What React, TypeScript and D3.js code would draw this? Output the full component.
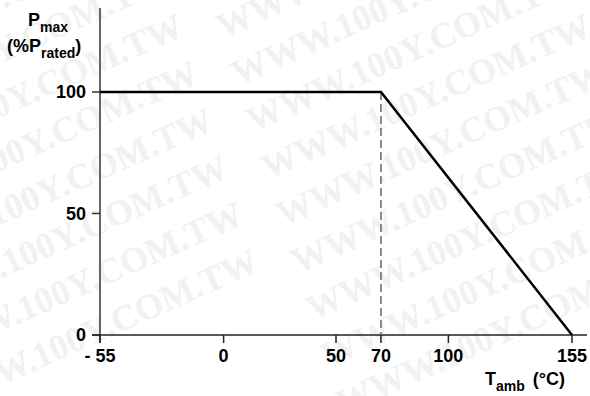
import * as d3 from "d3";

// derating curve points (temperature °C, % of rated power)
const curveTemps = [-55, 70, 155];
const curvePower = [100, 100, 0];
const kneeTemp = 70;

const xTickValues = [-55, 0, 50, 70, 100, 155];
const xTickLabels = ["- 55", "0", "50", "70", "100", "155"];
const yTickValues = [0, 50, 100];

const WM = "WWW.100Y.COM.TW";

const W = 590;
const H = 396;
const margin = { left: 100, right: 18, top: 92, bottom: 61 };

const App = () => {
  const x = d3.scaleLinear().domain([-55, 155]).range([margin.left, W - margin.right]);
  const y = d3.scaleLinear().domain([0, 100]).range([H - margin.bottom, margin.top]);

  const line = d3
    .line<number>()
    .x((d, i) => x(curveTemps[i]))
    .y((d) => y(d));

  const y0 = y(0);
  const font = "'Liberation Sans', Arial, Helvetica, sans-serif";

  // watermark rows (decoration only)
  const wmRows = [-1, 0, 1, 2, 3, 4, 5, 6, 7];

  return (
    <svg
      width={W}
      height={H}
      style={{ position: "absolute", left: 0, top: 0, background: "#fff" }}
      fontFamily={font}
    >
      <g fill="#f1f1f1" fontFamily="'Liberation Serif', 'Times New Roman', serif" fontWeight="bold" fontSize={36}>
        {wmRows.map((r) => (
          <g key={r}>
            <text transform={`translate(${-170 + 15 * r},${86 + 47 * r}) rotate(-24)`}>{WM}</text>
            <text transform={`translate(${238 + 15 * r},${86 + 47 * r}) rotate(-24)`}>{WM}</text>
          </g>
        ))}
      </g>

      {/* y axis */}
      <line x1={x(-55)} x2={x(-55)} y1={8} y2={y0 + 8} stroke="#666" strokeWidth={2} />
      {yTickValues.map((v) => (
        <g key={v}>
          <line x1={x(-55) - 8} x2={x(-55)} y1={y(v)} y2={y(v)} stroke="#333" strokeWidth={1.5} />
          <text x={86} y={y(v)} dy="0.35em" textAnchor="end" fontSize={18} fontWeight="bold">
            {v}
          </text>
        </g>
      ))}

      {/* x axis */}
      <line x1={x(-55) - 8} x2={587} y1={y0} y2={y0} stroke="#222" strokeWidth={1.5} />
      {xTickValues.map((v, i) => (
        <g key={v}>
          <line x1={x(v)} x2={x(v)} y1={y0} y2={y0 + 8} stroke="#222" strokeWidth={1.5} />
          <text x={x(v)} y={362} textAnchor="middle" fontSize={18} fontWeight="bold">
            {xTickLabels[i]}
          </text>
        </g>
      ))}

      {/* dashed knee line */}
      <line
        x1={x(kneeTemp)}
        x2={x(kneeTemp)}
        y1={y(100)}
        y2={y0}
        stroke="#666"
        strokeWidth={1.5}
        strokeDasharray="8,4"
      />

      {/* curve */}
      <path d={line(curvePower) || ""} fill="none" stroke="#000" strokeWidth={2.5} />

      {/* y title */}
      <text x={28} y={26} fontSize={18} fontWeight="bold">
        P<tspan fontSize={14} dy={6}>max</tspan>
      </text>
      <text x={7} y={52} fontSize={18} fontWeight="bold">
        (%P<tspan fontSize={14} dy={6}>rated</tspan>
        <tspan dy={-6}>)</tspan>
      </text>

      {/* x title */}
      <text x={485} y={385} fontSize={18} fontWeight="bold">
        T<tspan fontSize={14} dy={6}>amb</tspan>
        <tspan dy={-6} dx={8}>(°C)</tspan>
      </text>
    </svg>
  );
};

export default App;
